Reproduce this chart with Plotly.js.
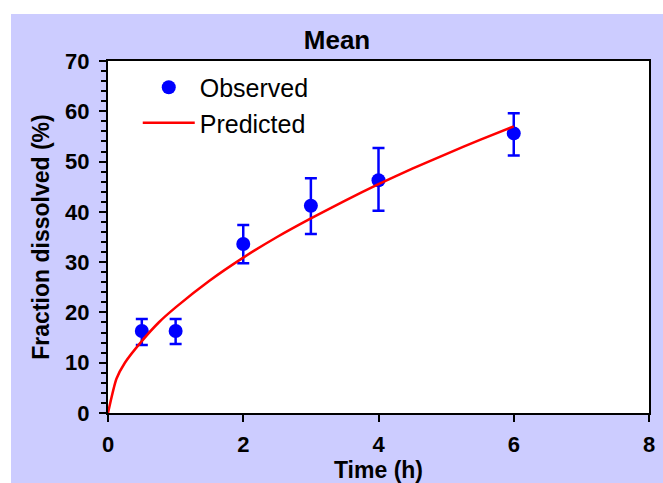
<!DOCTYPE html>
<html>
<head>
<meta charset="utf-8">
<script src="https://cdn.plot.ly/plotly-3.0.1.min.js"></script>
<style>
  html, body { margin: 0; padding: 0; background: #ffffff; }
  #chart { position: absolute; left: 11px; top: 14px; width: 652px; height: 469px; }
</style>
</head>
<body>
<div id="chart"></div>
<script>
// Observed data
const obsTime = [0.5, 1, 2, 3, 4, 6];
const obsMean = [16.3, 16.3, 33.6, 41.2, 46.3, 55.6];
const obsErrPlus = [2.4, 2.4, 3.8, 5.5, 6.4, 4.0];
const obsErrMinus = [2.8, 2.6, 3.8, 5.6, 6.1, 4.4];

// Predicted curve
const predTime = [0, 0.125, 0.25, 0.5, 0.75, 1, 1.5, 2, 2.5, 3, 3.5, 4, 4.5, 5, 5.5, 6];
const predValue = [0, 6.8, 10, 14.3, 18, 21, 26.3, 30.9, 35, 38.7, 42.2, 45.5, 48.6, 51.5, 54.3, 57];

const xTicks = [0, 2, 4, 6, 8];
const yTicks = [0, 10, 20, 30, 40, 50, 60, 70];

const FONT = 'Arial, "Liberation Sans", sans-serif';

const traces = [
  {
    x: obsTime, y: obsMean, type: 'scatter', mode: 'markers', name: 'Observed',
    marker: { color: '#0000ff', size: 14 },
    error_y: { type: 'data', symmetric: false, array: obsErrPlus, arrayminus: obsErrMinus,
               color: '#0000ff', thickness: 2.5, width: 6 }
  },
  {
    x: predTime, y: predValue, type: 'scatter', mode: 'lines', name: 'Predicted',
    line: { color: '#ff0000', width: 2.5, shape: 'spline', smoothing: 0.6 }
  }
];

const layout = {
  width: 652, height: 469,
  paper_bgcolor: '#ccccff',
  plot_bgcolor: '#ffffff',
  margin: { l: 97, r: 14, t: 47, b: 70 },
  font: { family: FONT, color: '#000000' },
  title: { text: '<b>Mean</b>', font: { size: 26, family: FONT, color: '#000' },
           x: 0.5, xanchor: 'center', y: 1 - 26/469, yanchor: 'middle', yref: 'container' },
  showlegend: true,
  legend: {
    x: 0.055, y: 0.99, xanchor: 'left', yanchor: 'top',
    bgcolor: 'rgba(0,0,0,0)', borderwidth: 0,
    font: { size: 25, family: FONT, color: '#000' },
    itemwidth: 52, tracegroupgap: 0
  },
  xaxis: {
    range: [0, 8], tickvals: xTicks, ticktext: xTicks.map(String),
    ticks: 'outside', ticklen: 7, tickwidth: 2, tickcolor: '#000',
    ticklabelstandoff: 4,
    showline: true, linewidth: 2, linecolor: '#000', mirror: true,
    showgrid: false, zeroline: false,
    tickfont: { size: 22, family: FONT, color: '#000', weight: 'bold' },
    title: { text: '<b>Time (h)</b>', font: { size: 23, family: FONT, color: '#000' }, standoff: 4 }
  },
  yaxis: {
    range: [0, 70], tickvals: yTicks, ticktext: yTicks.map(String),
    ticks: 'outside', ticklen: 7, tickwidth: 2, tickcolor: '#000',
    ticklabelstandoff: 5,
    minor: { dtick: 2, tick0: 0, ticks: 'outside', ticklen: 5, tickwidth: 2, tickcolor: '#000', showgrid: false },
    showline: true, linewidth: 2, linecolor: '#000', mirror: true,
    showgrid: false, zeroline: false,
    tickfont: { size: 22, family: FONT, color: '#000', weight: 'bold' },
    title: { text: '<b>Fraction dissolved (%)</b>', font: { size: 23, family: FONT, color: '#000' }, standoff: 9 }
  }
};

Plotly.newPlot('chart', traces, layout, { displayModeBar: false, staticPlot: true });
</script>
</body>
</html>
